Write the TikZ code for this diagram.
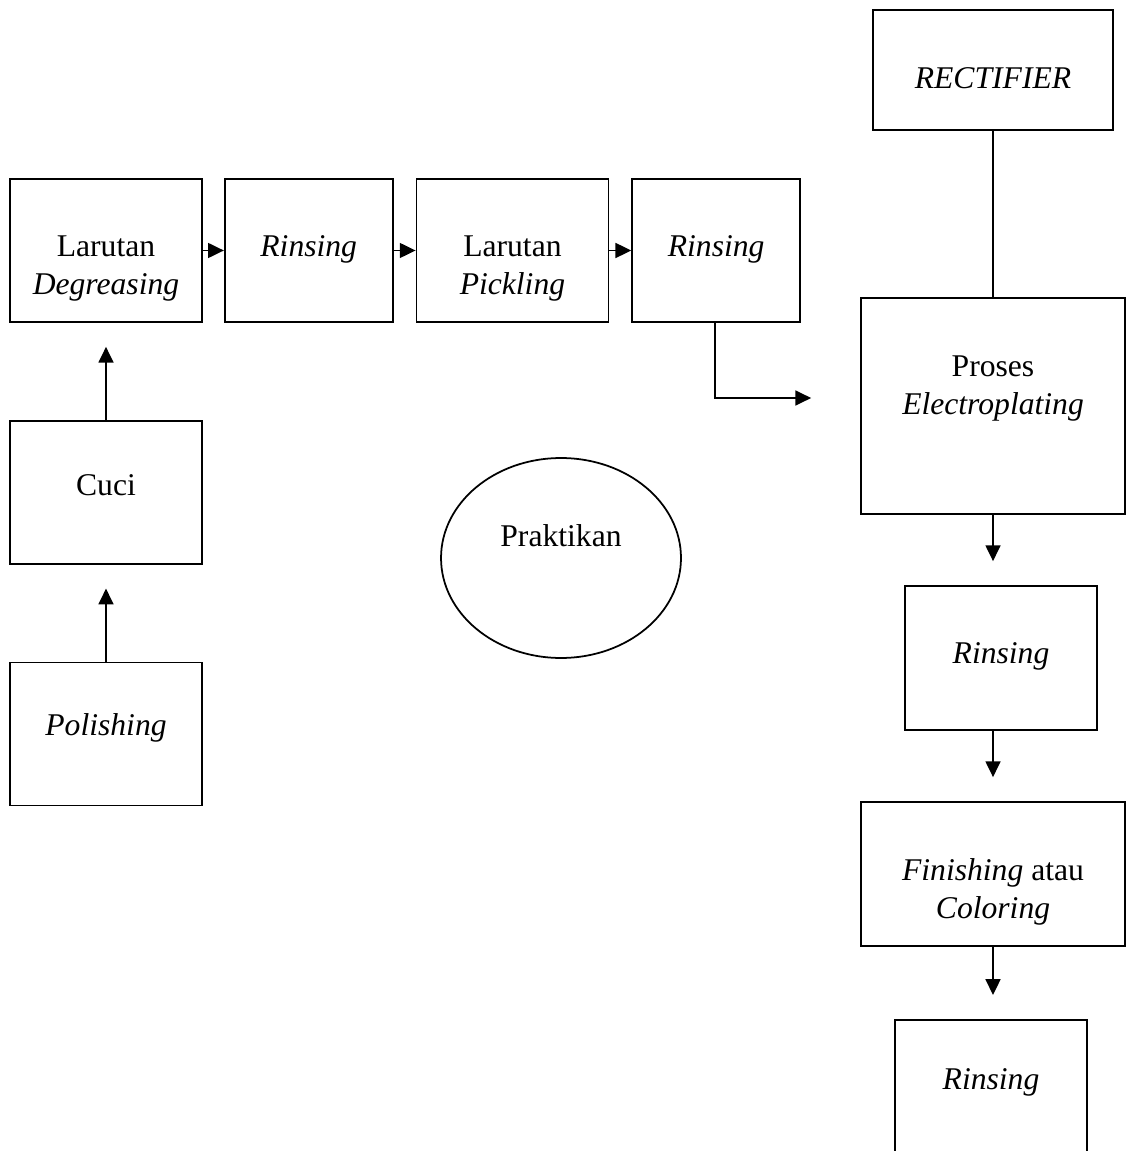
\documentclass[tikz,border=0pt]{standalone}
\usepackage{fontspec}
\setmainfont{Liberation Serif}
\usetikzlibrary{positioning,arrows.meta,shapes.geometric}

% text set in a box, moved up or down without changing the node size
\newcommand{\lbl}[2]{\raisebox{#1}[\height][\depth]{\begin{tabular}{@{}c@{}}#2\end{tabular}}}

\begin{document}
\begin{tikzpicture}[
    x=0.02cm, y=-0.02cm,
    font=\fontsize{18}{21.6}\selectfont,
    line width=1pt,
    box/.style={draw, align=center, minimum width=3.84cm, minimum height=2.86cm, inner sep=2pt},
    wide/.style={box, minimum width=5.28cm},
    arrow/.style={-{Triangle[length=9pt, width=8.5pt]}},
    gap/.style={shorten >=0.48cm}
]
\useasboundingbox (0,0) rectangle (1125,1151);

% --- Pre-treatment ---
\node[box] (deg) at (106,250.5) {\lbl{-9.7pt}{Larutan\\\textit{Degreasing}}};
\node[box, minimum width=3.36cm, right=0.42cm of deg] (rin1) {\lbl{1.1pt}{\textit{Rinsing}}};
\node[box, right=0.44cm of rin1] (pick) {\lbl{-9.7pt}{Larutan\\\textit{Pickling}}};
\node[box, minimum width=3.36cm, right=0.44cm of pick] (rin2) {\lbl{1.1pt}{\textit{Rinsing}}};
\node[box, below=1.94cm of deg] (cuci) {\lbl{2.3pt}{Cuci}};
\node[box, below=1.94cm of cuci] (pol) {\lbl{3.4pt}{\textit{Polishing}}};

\draw[arrow] (deg) -- (rin1);
\draw[arrow] (rin1) -- (pick);
\draw[arrow] (pick) -- (rin2);
\draw[arrow, gap] (pol) -- (cuci);
\draw[arrow, gap] (cuci) -- (deg);

% --- Praktikan ---
\node[draw, ellipse, minimum width=4.8cm, minimum height=4cm] (prak) at (561,558) {\lbl{10.8pt}{Praktikan}};

% --- Electroplating line ---
\node[box, minimum width=4.8cm, minimum height=2.4cm] (rect) at (993,70) {\lbl{-6.3pt}{\textit{RECTIFIER}}};
\node[wide, minimum height=4.32cm] (elec) at (993,406) {\lbl{10.2pt}{Proses\\\textit{Electroplating}}};
\node[box, minimum height=2.88cm] (rin3) at (1001,658) {\lbl{1.1pt}{\textit{Rinsing}}};
\node[wide, minimum height=2.88cm] (fin) at (993,874) {\lbl{-10.2pt}{\textit{Finishing} atau\\\textit{Coloring}}};
\node[box, minimum height=3.2cm, anchor=north] (rin4) at (991,1019) {\lbl{10.2pt}{\textit{Rinsing}}};

\draw (rect) -- (elec);
\draw[arrow, shorten >=0.98cm] (rin2.south -| 715,0) |- ([yshift=0.16cm]elec.west);
\draw[arrow, gap] (elec.south -| 993,0) -- (rin3.north -| 993,0);
\draw[arrow, gap] (rin3.south -| 993,0) -- (fin.north -| 993,0);
\draw[arrow, gap] (fin.south -| 993,0) -- (rin4.north -| 993,0);

\end{tikzpicture}
\end{document}
